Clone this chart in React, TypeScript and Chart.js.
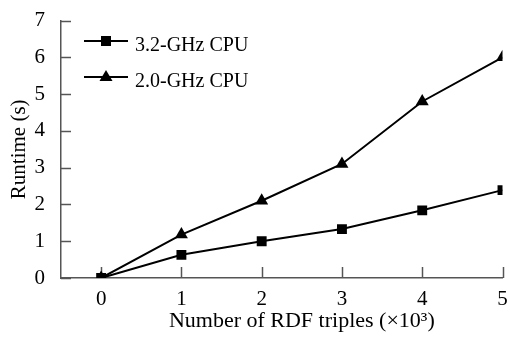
import React, { useEffect, useRef } from 'react';
import { Chart, registerables } from 'chart.js';

Chart.register(...registerables);

const xValues = [0, 1, 2, 3, 4, 5];
const cpu32 = [0, 0.63, 1.0, 1.33, 1.84, 2.39];
const cpu20 = [0, 1.18, 2.1, 3.1, 4.8, 6.0];
const seriesLabels = ['3.2-GHz CPU', '2.0-GHz CPU'];
const xTitle = 'Number of RDF triples (×10³)';
const yTitle = 'Runtime (s)';

const FONT = '"Liberation Serif", "Times New Roman", serif';
const AXIS = '#555';

const decorPlugin = {
  id: 'decor',
  beforeDatasetsDraw(chart: any) {
    const ctx = chart.ctx;
    const xs = chart.scales.x;
    const ys = chart.scales.y;
    const area = chart.chartArea;
    ctx.save();
    ctx.strokeStyle = AXIS;
    ctx.lineWidth = 1.5;
    ys.ticks.forEach((t: any) => {
      const py = Math.round(ys.getPixelForValue(t.value)) + 0.5;
      ctx.beginPath();
      ctx.moveTo(area.left, py);
      ctx.lineTo(area.left + 10, py);
      ctx.stroke();
    });
    xs.ticks.forEach((t: any) => {
      const px = Math.round(xs.getPixelForValue(t.value)) + 0.5;
      ctx.beginPath();
      ctx.moveTo(px, area.bottom);
      ctx.lineTo(px, area.bottom - 11);
      ctx.stroke();
    });
    ctx.restore();
  },
  afterDraw(chart: any) {
    const ctx = chart.ctx;
    const xs = chart.scales.x;
    const area = chart.chartArea;
    ctx.save();
    ctx.fillStyle = '#000';
    ctx.font = `22px ${FONT}`;
    ctx.textAlign = 'center';
    ctx.textBaseline = 'alphabetic';
    const cx = (xs.getPixelForValue(xValues[0]) + xs.getPixelForValue(xValues[xValues.length - 1])) / 2;
    ctx.fillText(xTitle, cx, 327);
    ctx.save();
    ctx.translate(19, (area.top + area.bottom) / 2);
    ctx.rotate(-Math.PI / 2);
    ctx.textBaseline = 'middle';
    ctx.font = `21px ${FONT}`;
    ctx.fillText(yTitle, 0, 0);
    ctx.restore();
    const rows = [41, 77];
    ctx.font = `20px ${FONT}`;
    ctx.textAlign = 'left';
    ctx.textBaseline = 'alphabetic';
    rows.forEach((y, i) => {
      ctx.strokeStyle = '#000';
      ctx.lineWidth = 2;
      ctx.beginPath();
      ctx.moveTo(84, y);
      ctx.lineTo(128, y);
      ctx.stroke();
      ctx.fillStyle = '#000';
      if (i === 0) {
        ctx.fillRect(106 - 5, y - 5, 10, 10);
      } else {
        ctx.beginPath();
        ctx.moveTo(106, y - 7);
        ctx.lineTo(106 + 6.5, y + 4);
        ctx.lineTo(106 - 6.5, y + 4);
        ctx.closePath();
        ctx.fill();
      }
      ctx.fillText(seriesLabels[i], 135, y + 10);
    });
    ctx.restore();
  },
};

export default function App() {
  const ref = useRef<HTMLCanvasElement | null>(null);
  useEffect(() => {
    document.body.style.margin = '0';
    if (!ref.current) return;
    const chart = new Chart(ref.current, {
      type: 'line',
      data: {
        labels: xValues,
        datasets: [
          {
            label: seriesLabels[0],
            data: xValues.map((x, i) => ({ x, y: cpu32[i] })),
            borderColor: '#000',
            backgroundColor: '#000',
            borderWidth: 2,
            pointStyle: 'rect',
            pointRadius: 7,
            pointBorderWidth: 0,
            tension: 0,
          },
          {
            label: seriesLabels[1],
            data: xValues.map((x, i) => ({ x, y: cpu20[i] })),
            borderColor: '#000',
            backgroundColor: '#000',
            borderWidth: 2,
            pointStyle: 'triangle',
            pointRadius: 7.5,
            pointBorderWidth: 0,
            tension: 0,
          },
        ],
      },
      options: {
        animation: false,
        responsive: true,
        maintainAspectRatio: false,
        layout: { padding: { top: 15, right: 7, left: 0, bottom: 0 } },
        plugins: { legend: { display: false }, tooltip: { enabled: false } },
        scales: {
          x: {
            type: 'linear',
            min: -0.5,
            max: 5,
            afterBuildTicks: (s: any) => {
              s.ticks = xValues.map((v) => ({ value: v }));
            },
            afterFit: (s: any) => {
              s.height = 60;
            },
            ticks: { stepSize: 1, color: '#000', padding: 1, font: { family: FONT, size: 21 }, maxRotation: 0 },
            grid: { display: false },
            border: { display: true, color: AXIS, width: 1.5 },
          },
          y: {
            type: 'linear',
            min: 0,
            max: 7,
            afterFit: (s: any) => {
              s.width = 61;
            },
            ticks: { stepSize: 1, color: '#000', padding: 8, font: { family: FONT, size: 21 } },
            grid: { display: false },
            border: { display: true, color: AXIS, width: 1.5 },
          },
        },
      },
      plugins: [decorPlugin],
    });
    return () => chart.destroy();
  }, []);
  return (
    <div style={{ width: 510, height: 338, position: 'relative' }}>
      <canvas ref={ref} />
    </div>
  );
}
